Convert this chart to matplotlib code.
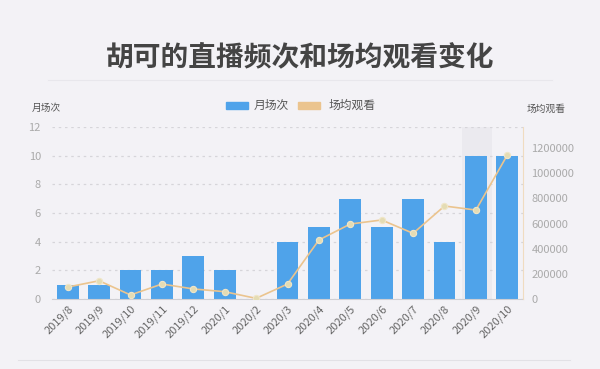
import matplotlib.pyplot as plt
from matplotlib.ticker import FuncFormatter
import numpy as np

plt.rcParams['font.family'] = ['Noto Sans CJK SC', 'DejaVu Sans']

months = ["2019/8", "2019/9", "2019/10", "2019/11", "2019/12", "2020/1", "2020/2",
          "2020/3", "2020/4", "2020/5", "2020/6", "2020/7", "2020/8", "2020/9", "2020/10"]
shows = [1, 1, 2, 2, 3, 2, 0, 4, 5, 7, 5, 7, 4, 10, 10]
avg_views = [95000, 145000, 32000, 119000, 80000, 58000, 5000, 119000,
             469000, 596000, 628000, 522000, 739000, 707000, 1144000]

bg = "#f3f2f6"
blue = "#4fa3ea"
tan = "#ebc48e"

fig = plt.figure(figsize=(6, 3.69), dpi=100, facecolor=bg)
ax = fig.add_axes([52 / 600, 1 - 299 / 369, 471 / 600, 172 / 369], facecolor=bg)
ax2 = ax.twinx()

x = np.arange(len(months))

# highlighted column (hover shadow)
ax.axvspan(12.55, 13.5, color="#ebeaef", zorder=0, lw=0)

ax.bar(x, shows, width=0.7, color=blue, zorder=2)
ax.set_xlim(-0.5, len(months) - 0.5)
ax.set_ylim(0, 12)
ax.set_yticks(range(0, 13, 2))
ax.yaxis.grid(True, color="#d6d5da", linestyle=(0, (2, 3)), lw=0.9, zorder=1)
ax.set_axisbelow(True)
for s in ["top", "left", "right"]:
    ax.spines[s].set_visible(False)
ax.spines["bottom"].set_color("#cfcfd4")
ax.tick_params(axis="y", length=0, labelsize=8, labelcolor="#aaaaaa", pad=8)
ax.tick_params(axis="x", length=0, labelsize=8, labelcolor="#666666", pad=3)
ax.set_xticks(x)
ax.set_xticklabels(months, rotation=45, ha="right", rotation_mode="anchor")

ax2.plot(x, avg_views, color=tan, lw=1.2, zorder=3,
         marker="o", markersize=4.5, markerfacecolor="#e4dcb4", markeredgecolor="#f0e6c8",
         markeredgewidth=0.8)
ax2.set_ylim(0, 1367000)
ax2.set_yticks(range(0, 1200001, 200000))
ax2.yaxis.set_major_formatter(FuncFormatter(lambda v, p: "%d" % v))
for s in ["top", "left", "bottom"]:
    ax2.spines[s].set_visible(False)
ax2.spines["right"].set_color("#f0dcc0")
ax2.tick_params(axis="y", length=0, labelsize=8, labelcolor="#aaaaaa", pad=6)

fig.text(0.5, 1 - 57 / 369, "胡可的直播频次和场均观看变化", ha="center", va="center",
         fontsize=20, fontweight="bold", color="#444444")
fig.add_artist(plt.Line2D([0.08, 0.92], [1 - 80 / 369] * 2, color="#e8e7ec", lw=0.8))
fig.add_artist(plt.Line2D([0.03, 0.95], [1 - 360 / 369] * 2, color="#e2e1e6", lw=0.8))

fig.text(32 / 600, 1 - 108 / 369, "月场次", fontsize=7, color="#555555", va="center")
fig.text(527 / 600, 1 - 109 / 369, "场均观看", fontsize=7, color="#555555", va="center")

# legend
fig.patches.append(plt.Rectangle((226 / 600, 1 - 108.5 / 369), 22 / 600, 7 / 369,
                                 color=blue, transform=fig.transFigure))
fig.text(254 / 600, 1 - 105 / 369, "月场次", fontsize=8.5, color="#555555", va="center")
fig.patches.append(plt.Rectangle((298 / 600, 1 - 108.5 / 369), 22 / 600, 7 / 369,
                                 color=tan, transform=fig.transFigure))
fig.text(329 / 600, 1 - 105 / 369, "场均观看", fontsize=8.5, color="#555555", va="center")

fig.savefig("out.png", dpi=100, facecolor=bg)
